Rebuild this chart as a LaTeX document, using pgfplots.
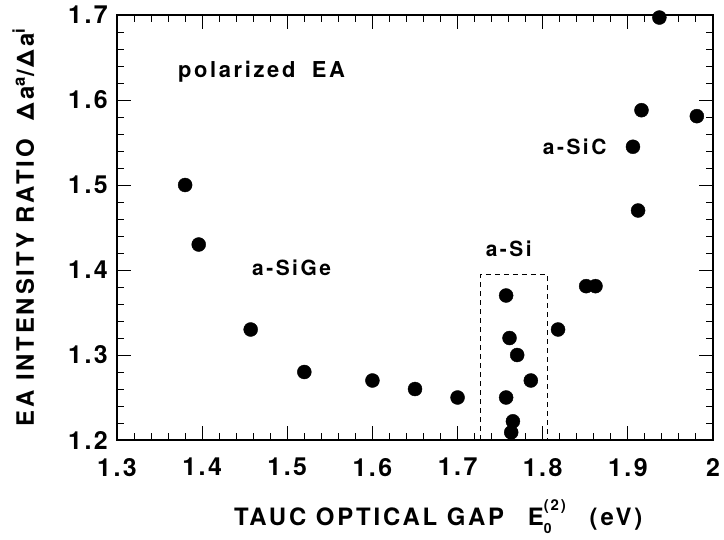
\documentclass[border=0pt]{standalone}
\usepackage{fontspec}
\setmainfont{TeX Gyre Heros}[LetterSpace=12]
\usepackage{pgfplots}
\pgfplotsset{compat=1.18}
\newcommand{\tl}[2]{#1\hspace{0.1em}.\hspace{0.1em}#2}
\newcommand{\Ez}{E\makebox[0pt][l]{\raisebox{-0.36em}{\fontsize{14}{14}\selectfont 0}}\raisebox{0.62em}{\fontsize{15}{15}\selectfont (2)}}
\begin{document}
\begin{tikzpicture}
\begin{axis}[name=ax, scale only axis, width=596bp, height=425bp,
  xmin=1.3, xmax=2, ymin=1.2, ymax=1.7, clip=false,
  xtick={1.3,1.4,1.5,1.6,1.7,1.8,1.9,2},
  xticklabels={\tl13,\tl14,\tl15,\tl16,\tl17,\tl18,\tl19,2},
  ytick={1.2,1.3,1.4,1.5,1.6,1.7},
  yticklabels={\tl12,\tl13,\tl14,\tl15,\tl16,\tl17},
  minor x tick num=4, minor y tick num=4,
  tick align=inside, major tick length=14bp, minor tick length=7bp,
  every tick/.style={black, line width=1pt},
  axis line style={line width=1.3pt},
  xticklabel style={font=\bfseries\fontsize{25}{28}\selectfont, anchor=north, inner sep=0pt, yshift=-18bp},
  yticklabel style={font=\bfseries\fontsize{25}{28}\selectfont, anchor=east, inner sep=0pt, xshift=-9bp},
  xlabel={TAUC OPTICAL GAP\hspace{1.0em}\Ez\hspace{1.0em}(eV)},
  xlabel style={at={(axis description cs:0.539,0)}, anchor=base, yshift=-85bp, inner sep=0pt, font=\bfseries\fontsize{24}{28}\selectfont},
  ylabel={EA INTENSITY RATIO\hspace{0.8em}Δa\textsuperscript{a}/Δa\textsuperscript{i}},
  ylabel style={at={(axis description cs:-0.1393,0.5)}, anchor=base, inner sep=0pt, font=\bfseries\fontsize{24}{28}\selectfont},
]
\addplot[only marks, mark=*, mark size=7bp, black] coordinates {
(1.380,1.50) (1.396,1.43) (1.457,1.33) (1.520,1.28) (1.600,1.27)
(1.650,1.26) (1.700,1.25) (1.757,1.37) (1.761,1.32) (1.770,1.30)
(1.786,1.27) (1.757,1.25) (1.765,1.222) (1.763,1.209) (1.818,1.33)
(1.851,1.381) (1.862,1.381) (1.906,1.545) (1.912,1.47) (1.916,1.588)
(1.937,1.697) (1.981,1.581)
};
\addplot[black, line width=0.8pt, dash pattern=on 5bp off 4bp] coordinates {
(1.727,1.2) (1.727,1.395) (1.805,1.395) (1.805,1.2)
};
\node[anchor=base west, inner sep=0pt, font=\bfseries\fontsize{22}{25}\selectfont] at (axis cs:1.3716,1.626) {polarized\hspace{0.75em}EA};
\node[anchor=base west, inner sep=0pt, font=\bfseries\fontsize{21}{25}\selectfont] at (axis cs:1.4585,1.394) {a-SiGe};
\node[anchor=base west, inner sep=0pt, font=\bfseries\fontsize{21}{25}\selectfont] at (axis cs:1.733,1.4153) {a-Si};
\node[anchor=base west, inner sep=0pt, font=\bfseries\fontsize{21}{25}\selectfont] at (axis cs:1.800,1.5353) {a-SiC};
\end{axis}
\pgfresetboundingbox
\path[use as bounding box] ([xshift=-117bp,yshift=-99bp]ax.south west) rectangle ([xshift=11bp,yshift=15bp]ax.north east);
\end{tikzpicture}
\end{document}
